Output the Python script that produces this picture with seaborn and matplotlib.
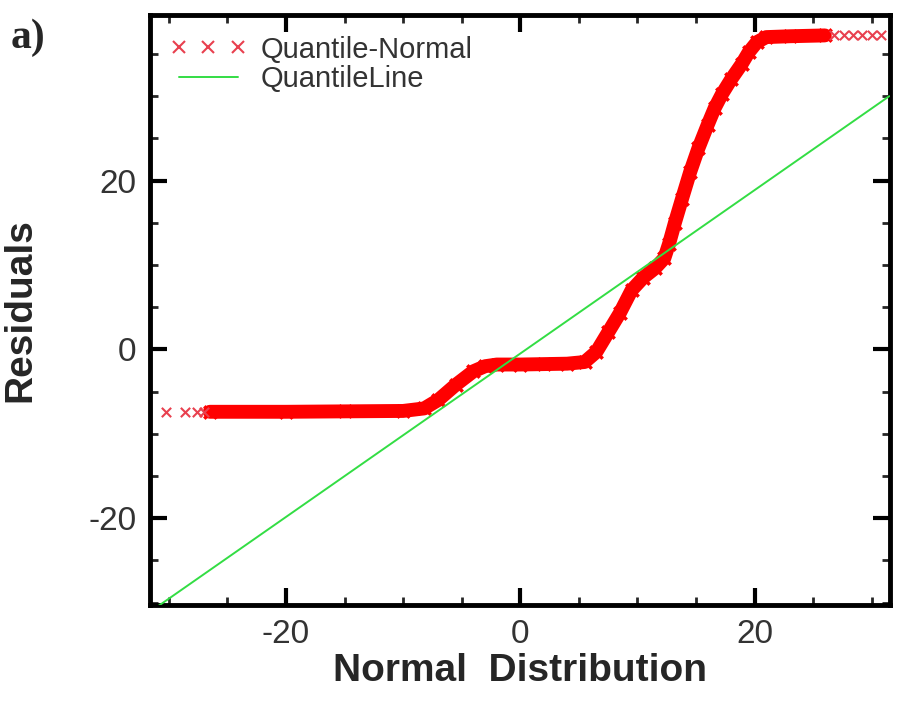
import matplotlib
matplotlib.use("Agg")
import matplotlib.pyplot as plt
from matplotlib.lines import Line2D
from matplotlib.ticker import MultipleLocator
import seaborn as sns
import pandas as pd

# Quantile-Normal band (normal quantile, residual)
qn_x = [-26.5, -20, -15, -10, -8.2, -7, -5.5, -4, -3, -2, 0, 2, 4, 5.5, 6.5, 7.5,
        8.5, 9.5, 10.5, 11.5, 12.3, 12.7, 13.2, 13.8, 14.5, 15.2, 16, 16.6, 17.2,
        18, 18.9, 19.5, 20.2, 21, 23, 26]
qn_y = [-7.4, -7.4, -7.35, -7.3, -7.0, -6.0, -4.2, -2.6, -2.0, -1.8, -1.8, -1.75,
        -1.7, -1.5, -0.3, 2.0, 4.3, 7.0, 8.5, 9.6, 10.8, 12.5, 15.0, 17.8, 21.0,
        23.8, 26.6, 28.6, 30.2, 32.0, 33.8, 35.2, 36.4, 37.0, 37.1, 37.2]
# sparse tail points
tail_x = [-30.2, -28.6, -27.6, -27.0, 26.8, 27.6, 28.4, 29.2, 30.0, 30.8]
tail_y = [-7.4, -7.4, -7.4, -7.4, 37.2, 37.2, 37.2, 37.2, 37.2, 37.2]
# Quantile line end points
ql_x = [-31.5, 31.5]
ql_y = [-31.0, 30.0]

xticks = [-20, 0, 20]
yticks = [-20, 0, 20]

sns.set_style("white")
plt.rcParams['font.family'] = ['Liberation Sans', 'DejaVu Sans']

fig = plt.figure(figsize=(9.04, 7.22), dpi=100)
ax = fig.add_axes([0.166, 0.162, 0.819, 0.817])

band = pd.DataFrame({"x": qn_x, "y": qn_y})
tails = pd.DataFrame({"x": tail_x, "y": tail_y})
line = pd.DataFrame({"x": ql_x, "y": ql_y})

red = "#ff0000"
sns.lineplot(data=band, x="x", y="y", ax=ax, color=red, linewidth=10,
             sort=False, solid_capstyle="round", solid_joinstyle="round", zorder=2)
sns.scatterplot(data=band, x="x", y="y", ax=ax, color=red, marker="x", s=80,
                linewidth=2.5, zorder=3)
sns.scatterplot(data=tails, x="x", y="y", ax=ax, color="#e8404f", marker="x", s=45,
                linewidth=1.5, zorder=3)
sns.lineplot(data=line, x="x", y="y", ax=ax, color="#33dd44", linewidth=1.4, zorder=4)

ax.set_xlim(-31.6, 31.6)
ax.set_ylim(-30.3, 39.6)
ax.xaxis.set_minor_locator(MultipleLocator(5))
ax.yaxis.set_minor_locator(MultipleLocator(5))
ax.set_xticks(xticks)
ax.set_yticks(yticks)
ax.set_xticklabels([str(v) for v in xticks])
ax.set_yticklabels([str(v) for v in yticks])
ax.tick_params(which="major", direction="in", length=12, width=3,
               bottom=True, left=True, top=True, right=True,
               labelsize=24, pad=10, colors="black")
ax.tick_params(which="minor", direction="in", length=6, width=2,
               bottom=True, left=True, top=True, right=True)
ax.tick_params(axis="x", labelcolor="#333333")
ax.tick_params(axis="y", labelcolor="#333333")
for s in ax.spines.values():
    s.set_visible(True)
    s.set_linewidth(3.5)
    s.set_color("black")

ax.set_xlabel("Normal  Distribution", fontsize=28, fontweight="bold", labelpad=2)
ax.set_ylabel("Residuals", fontsize=28, fontweight="bold", labelpad=36)

handles = [Line2D([], [], color="#e8404f", marker="x", linestyle="none",
                  markersize=8, markeredgewidth=1.5),
           Line2D([], [], color="#33dd44", linewidth=1.4)]
leg = ax.legend(handles, ["Quantile-Normal", "QuantileLine"], loc="upper left",
                frameon=False, numpoints=3, handlelength=2.6,
                borderaxespad=0.3, labelspacing=0.05, handletextpad=0.5,
                prop={"family": ["Liberation Sans", "DejaVu Sans"], "size": 21})
for t in leg.get_texts():
    t.set_color("#333333")

fig.text(0.012, 0.975, "a)", fontsize=30, fontweight="bold",
         family=["Liberation Serif", "DejaVu Serif"], va="top", ha="left")

fig.savefig("out.png", dpi=100)
